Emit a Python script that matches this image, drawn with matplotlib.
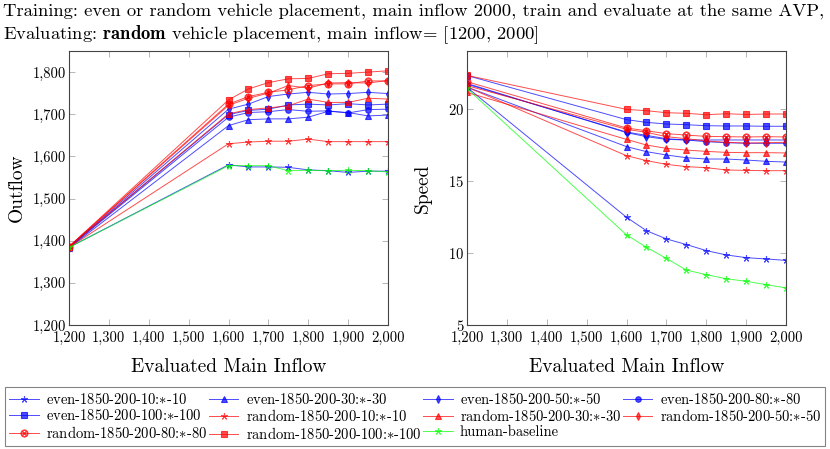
import numpy as np
import matplotlib
matplotlib.use("Agg")
import matplotlib.pyplot as plt
from matplotlib.ticker import FuncFormatter, MultipleLocator

plt.rcParams["font.family"] = "serif"
plt.rcParams["font.serif"] = ["cmr10", "DejaVu Serif"]
plt.rcParams["mathtext.fontset"] = "cm"
plt.rcParams["axes.formatter.use_mathtext"] = True

inflow = [1200, 1600, 1650, 1700, 1750, 1800, 1850, 1900, 1950, 2000]

names = ["even-10", "even-30", "even-50", "even-80", "even-100",
         "random-10", "random-30", "random-50", "random-80", "random-100", "human"]
labels = [r"even-1850-200-10:$\ast$-10", r"even-1850-200-30:$\ast$-30",
          r"even-1850-200-50:$\ast$-50", r"even-1850-200-80:$\ast$-80",
          r"even-1850-200-100:$\ast$-100", r"random-1850-200-10:$\ast$-10",
          r"random-1850-200-30:$\ast$-30", r"random-1850-200-50:$\ast$-50",
          r"random-1850-200-80:$\ast$-80", r"random-1850-200-100:$\ast$-100",
          "human-baseline"]

outflow = {
    "even-10":    [1384, 1580, 1575, 1575, 1574, 1568, 1566, 1562, 1565, 1565],
    "even-30":    [1383, 1673, 1687, 1689, 1689, 1693, 1707, 1704, 1696, 1698],
    "even-50":    [1385, 1712, 1724, 1742, 1748, 1752, 1748, 1749, 1752, 1749],
    "even-80":    [1384, 1693, 1704, 1706, 1711, 1707, 1708, 1703, 1711, 1712],
    "even-100":   [1385, 1699, 1709, 1712, 1722, 1724, 1722, 1725, 1722, 1724],
    "random-10":  [1384, 1630, 1634, 1636, 1636, 1641, 1635, 1635, 1635, 1635],
    "random-30":  [1385, 1701, 1711, 1715, 1720, 1736, 1728, 1728, 1738, 1736],
    "random-50":  [1386, 1721, 1738, 1750, 1768, 1762, 1774, 1775, 1774, 1780],
    "random-80":  [1386, 1724, 1742, 1752, 1758, 1768, 1772, 1772, 1779, 1779],
    "random-100": [1386, 1734, 1760, 1775, 1784, 1785, 1796, 1797, 1800, 1803],
    "human":      [1384, 1578, 1578, 1578, 1566, 1567, 1566, 1567, 1566, 1563],
}

speed = {
    "even-10":    [21.48, 12.47, 11.54, 10.97, 10.58, 10.16, 9.86, 9.67, 9.58, 9.48],
    "even-30":    [21.50, 17.37, 17.02, 16.79, 16.60, 16.51, 16.51, 16.44, 16.35, 16.30],
    "even-50":    [21.75, 18.34, 18.06, 17.87, 17.83, 17.83, 17.83, 17.83, 17.83, 17.83],
    "even-80":    [21.70, 18.38, 18.15, 17.92, 17.83, 17.71, 17.64, 17.60, 17.60, 17.60],
    "even-100":   [22.30, 19.24, 19.05, 18.94, 18.89, 18.82, 18.80, 18.80, 18.78, 18.78],
    "random-10":  [21.50, 16.74, 16.40, 16.14, 15.98, 15.91, 15.75, 15.72, 15.70, 15.70],
    "random-30":  [21.13, 17.87, 17.48, 17.25, 17.13, 17.04, 16.97, 16.95, 16.95, 16.93],
    "random-50":  [21.60, 18.57, 18.36, 18.06, 17.92, 17.76, 17.67, 17.62, 17.64, 17.67],
    "random-80":  [21.87, 18.66, 18.47, 18.27, 18.17, 18.08, 18.06, 18.04, 18.06, 18.04],
    "random-100": [22.31, 19.95, 19.86, 19.72, 19.68, 19.58, 19.65, 19.60, 19.63, 19.63],
    "human":      [21.40, 11.25, 10.39, 9.62, 8.81, 8.49, 8.21, 8.03, 7.80, 7.57],
}

colors = ["blue"] * 5 + ["red"] * 5 + ["#00ff00"]
markers = [(5, 2, 0), "^", "d", "o", "s", (5, 2, 0), "^", "d", r"$\otimes$", "s", (5, 2, 0)]
msizes = [5, 4, 4, 4, 4.5, 5, 4, 4, 5, 4.5, 5]

fig = plt.figure(figsize=(8.3, 4.49), dpi=100)
ax1 = fig.add_axes([69 / 830, 124 / 449, 319 / 830, 274 / 449])
ax2 = fig.add_axes([467 / 830, 124 / 449, 319 / 830, 274 / 449])

handles = []
for i, n in enumerate(names):
    for ax, data in ((ax1, outflow), (ax2, speed)):
        h, = ax.plot(inflow, data[n], color=colors[i], lw=0.7, alpha=0.7,
                     marker=markers[i], ms=msizes[i], mec=colors[i], mfc=colors[i],
                     mew=0.8, label=labels[i])
    handles.append(h)

comma = FuncFormatter(lambda v, p: f"{int(round(v)):,}")
for ax in (ax1, ax2):
    ax.set_xlim(1200, 2000)
    ax.xaxis.set_major_locator(MultipleLocator(100))
    ax.xaxis.set_major_formatter(comma)
    ax.tick_params(direction="in", top=True, right=True, length=4, width=0.6,
                   color="#aaaaaa", labelsize=10.5, labelcolor="black", pad=2)
    ax.tick_params(axis="x", pad=4)
    ax.set_xlabel("Evaluated Main Inflow", fontsize=14, labelpad=10)
    for s in ax.spines.values():
        s.set_color("#444444")
        s.set_linewidth(0.8)

ax1.set_ylim(1200, 1850)
ax1.yaxis.set_major_locator(MultipleLocator(100))
ax1.yaxis.set_major_formatter(comma)
ax1.set_ylabel("Outflow", fontsize=14, labelpad=5)

ax2.set_ylim(5, 24)
ax2.yaxis.set_major_locator(MultipleLocator(5))
ax2.set_ylabel("Speed", fontsize=14, labelpad=12)

fig.text(0.004, 1 - 12 / 449, "Training: even or random vehicle placement, main inflow 2000, "
         "train and evaluate at the same AVP,", fontsize=13.4, va="center", ha="left")
fig.text(0.004, 1 - 35 / 449, r"Evaluating: $\mathbf{random}$ vehicle placement, main inflow= [1200, 2000]",
         fontsize=13.4, va="center", ha="left")

# matplotlib fills legend columns first, pgfplots fills rows first
order = [0, 4, 8, 1, 5, 9, 2, 6, 10, 3, 7]
leg = fig.legend([handles[k] for k in order], [labels[k] for k in order],
                 loc="lower left", bbox_to_anchor=(5 / 830, 3 / 449, 820 / 830, 56 / 449),
                 mode="expand", ncol=4, fontsize=10.5, frameon=True, fancybox=False,
                 borderaxespad=0, handlelength=2.0, handletextpad=0.5,
                 labelspacing=0.1, borderpad=0.3, columnspacing=0.3)
leg.get_frame().set_edgecolor("#666666")
leg.get_frame().set_linewidth(0.8)

fig.savefig("out.png", dpi=100)
